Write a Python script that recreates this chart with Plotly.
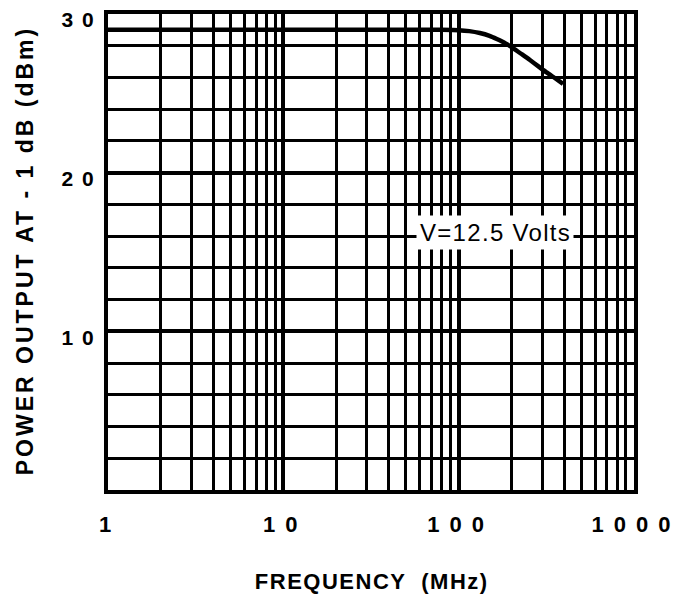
import plotly.graph_objects as go

# Data
freq_mhz = [1, 2, 5, 10, 20, 50, 80, 100, 115, 132, 150, 165, 185, 204, 230, 255, 285, 319, 355, 394]
power_dbm = [29.0, 29.0, 29.0, 29.0, 29.0, 29.0, 29.0, 28.98, 28.92, 28.8, 28.62, 28.42, 28.15, 27.85, 27.45, 27.1, 26.7, 26.3, 25.95, 25.6]

x_major_ticks = [1, 10, 100, 1000]
x_major_labels = ["1", "10", "100", "1000"]
x_minor_ticks = [2, 3, 4, 5, 6, 7, 8, 9, 20, 30, 40, 50, 60, 70, 80, 90,
                 200, 300, 400, 500, 600, 700, 800, 900]
y_major_ticks = [10, 20, 30]
y_major_labels = ["10", "20", "30"]
y_minor_ticks = [2, 4, 6, 8, 12, 14, 16, 18, 22, 24, 26, 28]

label_text = "V=12.5 Volts"
x_title = "FREQUENCY  (MHz)"
y_title = "POWER OUTPUT AT - 1 dB (dBm)"

FONT = "Arial, Liberation Sans, Helvetica, sans-serif"


def spaced(text, px):
    # letter-spacing between characters, none after the last one
    if len(text) < 2:
        return text
    return f'<span style="letter-spacing:{px}px">{text[:-1]}</span>{text[-1]}'


fig = go.Figure()
fig.add_trace(go.Scatter(
    x=freq_mhz, y=power_dbm, mode="lines",
    line=dict(color="black", width=4.5, shape="spline", smoothing=0.6),
    showlegend=False, hoverinfo="skip",
))

fig.update_xaxes(
    type="log", range=[0, 3], automargin=False,
    tickvals=x_major_ticks, ticktext=[spaced(t, 10) for t in x_major_labels],
    tickfont=dict(family=FONT, size=22, color="black", weight="bold"),
    ticks="", ticklabelstandoff=12, ticklabelshift=-3,
    showgrid=True, gridcolor="black", gridwidth=4,
    minor=dict(tickvals=x_minor_ticks, showgrid=True, gridcolor="black", gridwidth=3, ticks=""),
    showline=True, linecolor="black", linewidth=4, mirror=True,
    zeroline=False,
    title=dict(text=spaced(x_title, 1.5), font=dict(family=FONT, size=22, color="black", weight="bold"), standoff=38),
)
fig.update_yaxes(
    range=[0, 30], automargin=False,
    tickvals=y_major_ticks, ticktext=[spaced(t, 9) for t in y_major_labels],
    tickfont=dict(family=FONT, size=21, color="black", weight="bold"),
    ticks="", ticklabelstandoff=6, ticklabelshift=6, ticklabeloverflow="allow",
    showgrid=True, gridcolor="black", gridwidth=4,
    minor=dict(tickvals=y_minor_ticks, showgrid=True, gridcolor="black", gridwidth=3, ticks=""),
    showline=True, linecolor="black", linewidth=4, mirror=True,
    zeroline=False,
    title=dict(text=spaced(y_title, 3), font=dict(family=FONT, size=23, color="black", weight="bold"), standoff=22),
)

fig.add_annotation(
    x=0.736, y=0.542, xref="paper", yref="paper",
    xanchor="center", yanchor="middle",
    text=spaced(label_text, 1.3), showarrow=False,
    font=dict(family=FONT, size=24, color="black"),
    bgcolor="white", borderpad=3,
)

fig.update_layout(
    width=682, height=606,
    margin=dict(l=100, r=56, t=6, b=124),
    paper_bgcolor="white", plot_bgcolor="white",
)

fig.write_html("out.html")
